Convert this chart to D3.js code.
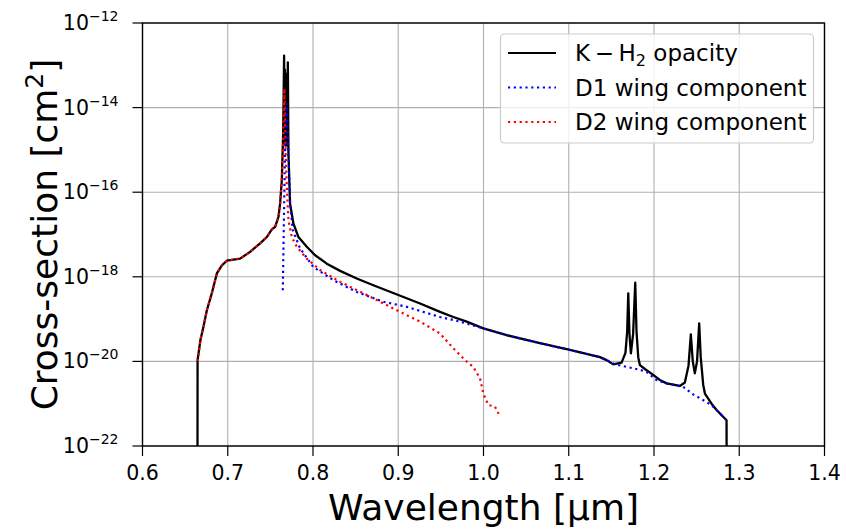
<!DOCTYPE html>
<html>
<head>
<meta charset="utf-8">
<script src="https://cdn.jsdelivr.net/npm/d3@7"></script>
<style>
  body { margin: 0; background: #fff; }
  svg { display: block; font-family: "DejaVu Sans", sans-serif; }
</style>
</head>
<body>
<svg id="chart" width="846" height="532"></svg>
<script>
// wavelength [um] and log10(cross-section [cm^2])
const kh2Wave = [0.6645, 0.6646, 0.6679, 0.6715, 0.6755, 0.6813, 0.6872, 0.6931, 0.6989, 0.7145,
  0.7262, 0.738, 0.7458, 0.7517, 0.7556, 0.7595, 0.7614, 0.7634, 0.765, 0.7661,
  0.7666, 0.7671, 0.7676, 0.7681, 0.7686, 0.7691, 0.7696, 0.7705, 0.7712, 0.7731,
  0.777, 0.7829, 0.7927, 0.8025, 0.8162, 0.8318, 0.8513, 0.8708, 0.9001, 0.9256,
  0.949, 0.9646, 0.9803, 0.9998, 1.0272, 1.0662, 1.1014, 1.1366, 1.1444, 1.1522,
  1.162, 1.1665, 1.1685, 1.1698, 1.1712, 1.1729, 1.1755, 1.178, 1.1795, 1.1815,
  1.1835, 1.1893, 1.199, 1.2069, 1.2148, 1.2303, 1.2362, 1.2405, 1.2432, 1.2455,
  1.2479, 1.2505, 1.253, 1.2548, 1.2577, 1.2597, 1.2675, 1.2734, 1.2831, 1.2851, 1.2852];
const kh2Log = [-22.5, -19.97, -19.5, -19.18, -18.79, -18.39, -17.92, -17.73, -17.62, -17.57,
  -17.41, -17.21, -17.06, -16.88, -16.82, -16.58, -16.27, -15.72, -14.6, -12.77,
  -14.8, -13.1, -14.9, -13.2, -14.9, -13.3, -14.7, -12.93, -15.09, -16.27,
  -16.74, -17.06, -17.29, -17.49, -17.69, -17.86, -18.04, -18.2, -18.43, -18.63,
  -18.83, -18.95, -19.06, -19.22, -19.38, -19.57, -19.73, -19.9, -19.97, -20.07,
  -20.03, -19.8, -19.3, -18.39, -19.35, -19.81, -19.35, -18.14, -19.3, -19.9,
  -20.09, -20.18, -20.32, -20.44, -20.52, -20.58, -20.5, -20.1, -19.36, -20.0,
  -20.28, -20.0, -19.1, -19.9, -20.55, -20.76, -21.0, -21.15, -21.35, -21.39, -22.5];

const d1Wave = [0.7646, 0.7652, 0.7658, 0.7661, 0.7668, 0.7676, 0.7685, 0.7693, 0.7712, 0.7731,
  0.7763, 0.7849, 0.8005, 0.824, 0.8513, 0.8826, 0.91, 0.949, 0.9727, 0.9998,
  1.0272, 1.0662, 1.1014, 1.1366, 1.1444, 1.1545, 1.1679, 1.1835, 1.1913, 1.203,
  1.2148, 1.2342, 1.2459, 1.2616, 1.2694, 1.2831, 1.2843];
const d1Log = [-18.32, -17.5, -16.8, -16.35, -15.5, -14.7, -14.1, -13.9, -15.09, -16.27,
  -16.9, -17.33, -17.77, -18.08, -18.36, -18.59, -18.71, -18.95, -19.06, -19.22,
  -19.38, -19.57, -19.73, -19.9, -19.97, -20.07, -20.13, -20.2, -20.25, -20.44,
  -20.52, -20.6, -20.78, -20.96, -21.07, -21.35, -21.37];

const d2Wave = [0.6648, 0.6679, 0.6715, 0.6755, 0.6813, 0.6872, 0.6931, 0.6989, 0.7145, 0.7262,
  0.738, 0.7458, 0.7517, 0.7556, 0.7595, 0.7614, 0.7634, 0.765, 0.7665, 0.7678,
  0.7693, 0.7712, 0.7751, 0.781, 0.7927, 0.8083, 0.8318, 0.863, 0.8982, 0.9256,
  0.949, 0.9646, 0.9784, 0.988, 0.9959, 0.9998, 1.0056, 1.0135, 1.0186];
const d2Log = [-20.0, -19.5, -19.18, -18.79, -18.39, -17.92, -17.73, -17.62, -17.57, -17.41,
  -17.21, -17.06, -16.88, -16.82, -16.58, -16.27, -15.72, -14.8, -13.55, -15.0,
  -15.88, -16.66, -17.06, -17.29, -17.57, -17.84, -18.12, -18.43, -18.79, -19.06,
  -19.34, -19.69, -19.97, -20.13, -20.4, -20.76, -21.03, -21.07, -21.27];

const xTicks = [0.6, 0.7, 0.8, 0.9, 1.0, 1.1, 1.2, 1.3, 1.4];
const yTickExps = [-22, -20, -18, -16, -14, -12];

const legendItems = [
  { key: "kh2", label: "opacity", color: "#000000", dotted: false },
  { key: "d1", label: "D1 wing component", color: "#0000ff", dotted: true },
  { key: "d2", label: "D2 wing component", color: "#ff0000", dotted: true },
];

const svg = d3.select("#chart");
const m = { left: 142.5, right: 824.5, top: 23, bottom: 446 };
const tickLen = 10;

const x = d3.scaleLinear().domain([0.6, 1.4]).range([m.left, m.right]);
const y = d3.scaleLog().domain([1e-22, 1e-12]).range([m.bottom, m.top]);

const toPts = (ws, ls) => ws.map((w, i) => [w, Math.pow(10, ls[i])]);

svg.append("defs").append("clipPath").attr("id", "plotclip")
  .append("rect")
  .attr("x", m.left).attr("y", m.top)
  .attr("width", m.right - m.left).attr("height", m.bottom - m.top);

// grid
const grid = svg.append("g").attr("stroke", "#b0b0b0").attr("stroke-width", 1.1);
xTicks.forEach((t) => {
  grid.append("line").attr("x1", x(t)).attr("x2", x(t))
    .attr("y1", m.top).attr("y2", m.bottom);
});
yTickExps.forEach((e) => {
  grid.append("line").attr("x1", m.left).attr("x2", m.right)
    .attr("y1", y(Math.pow(10, e))).attr("y2", y(Math.pow(10, e)));
});

const line = d3.line().x((d) => x(d[0])).y((d) => y(d[1]));
const plot = svg.append("g").attr("clip-path", "url(#plotclip)").attr("fill", "none");

plot.append("path").datum(toPts(kh2Wave, kh2Log))
  .attr("d", line).attr("stroke", "#000").attr("stroke-width", 2.3)
  .attr("stroke-linejoin", "round");
plot.append("path").datum(toPts(d1Wave, d1Log))
  .attr("d", line).attr("stroke", "#0000ff").attr("stroke-width", 2.2)
  .attr("stroke-dasharray", "2.2,3.6");
plot.append("path").datum(toPts(d2Wave, d2Log))
  .attr("d", line).attr("stroke", "#ff0000").attr("stroke-width", 2.2)
  .attr("stroke-dasharray", "2.2,3.6");

// frame
svg.append("rect")
  .attr("x", m.left).attr("y", m.top)
  .attr("width", m.right - m.left).attr("height", m.bottom - m.top)
  .attr("fill", "none").attr("stroke", "#000").attr("stroke-width", 1.4);

// x axis ticks
const xAx = svg.append("g");
xTicks.forEach((t) => {
  xAx.append("line").attr("x1", x(t)).attr("x2", x(t))
    .attr("y1", m.bottom).attr("y2", m.bottom + tickLen)
    .attr("stroke", "#000").attr("stroke-width", 1.2);
  xAx.append("text").attr("x", x(t)).attr("y", m.bottom + 34)
    .attr("text-anchor", "middle").attr("font-size", 20.5).attr("fill", "#000")
    .text(t.toFixed(1));
});

// y axis ticks
const yAx = svg.append("g");
yTickExps.forEach((e) => {
  const yy = y(Math.pow(10, e));
  yAx.append("line").attr("x1", m.left - tickLen).attr("x2", m.left)
    .attr("y1", yy).attr("y2", yy)
    .attr("stroke", "#000").attr("stroke-width", 1.2);
  const t = yAx.append("text").attr("x", m.left - 24).attr("y", yy + 7)
    .attr("text-anchor", "end").attr("font-size", 20.5).attr("fill", "#000");
  t.append("tspan").text("10");
  t.append("tspan").attr("font-size", 14).attr("dy", -9).text("\u2212" + Math.abs(e));
});

// axis labels
svg.append("text").attr("x", (m.left + m.right) / 2).attr("y", 520)
  .attr("text-anchor", "middle").attr("font-size", 36).attr("fill", "#000")
  .text("Wavelength [\u00b5m]");
const yl = svg.append("text")
  .attr("transform", `translate(57,${(m.top + m.bottom) / 2}) rotate(-90)`)
  .attr("text-anchor", "middle").attr("font-size", 36).attr("fill", "#000");
yl.append("tspan").text("Cross-section [cm");
yl.append("tspan").attr("font-size", 25).attr("dy", -14).text("2");
yl.append("tspan").attr("dy", 14).text("]");

// legend
const leg = svg.append("g");
leg.append("rect").attr("x", 500.5).attr("y", 34).attr("width", 313).attr("height", 109)
  .attr("rx", 4).attr("fill", "#fff").attr("fill-opacity", 0.8)
  .attr("stroke", "#cccccc").attr("stroke-width", 1.2);
legendItems.forEach((it, i) => {
  const ly = 53 + i * 34.5;
  leg.append("line").attr("x1", 508).attr("x2", 556).attr("y1", ly).attr("y2", ly)
    .attr("stroke", it.color).attr("stroke-width", 2.2)
    .attr("stroke-dasharray", it.dotted ? "2.2,3.6" : null);
  const t = leg.append("text").attr("x", 575).attr("y", ly + 8)
    .attr("font-size", 23).attr("fill", "#000");
  if (it.key === "kh2") {
    t.append("tspan").text("K\u2009\u2212\u2009H");
    t.append("tspan").attr("font-size", 16).attr("dy", 5).text("2");
    t.append("tspan").attr("dy", -5).text(" " + it.label);
  } else {
    t.text(it.label);
  }
});
</script>
</body>
</html>
